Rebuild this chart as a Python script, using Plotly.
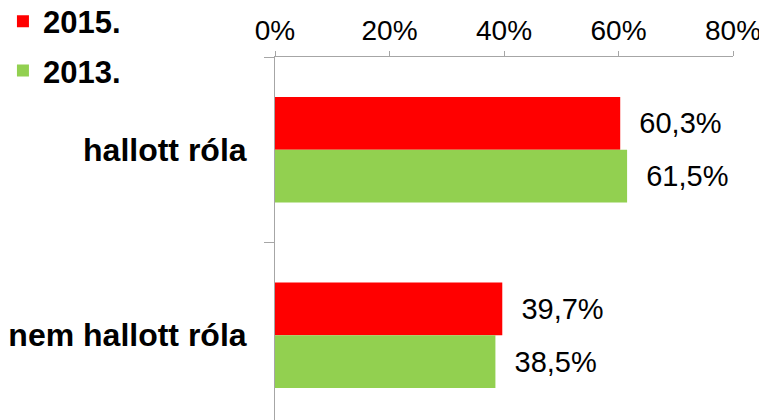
import plotly.graph_objects as go

categories = ["hallott róla", "nem hallott róla"]
years = ["2015.", "2013."]
values_2015 = [60.3, 39.7]
values_2013 = [61.5, 38.5]
colors = ["#FF0000", "#92D050"]

x_ticks = [0, 20, 40, 60, 80]
x_ticktext = ["0%", "20%", "40%", "60%", "80%"]

fig = go.Figure()
for name, vals, col in zip(years, [values_2015, values_2013], colors):
    fig.add_trace(go.Bar(
        y=categories, x=vals, name=name, orientation="h",
        marker=dict(color=col, line=dict(width=0)),
        texttemplate="\u00a0\u00a0%{x:.1f}%", textposition="outside",
        textfont=dict(size=29, color="#000000", family="Liberation Sans, Arial"),
        cliponaxis=False, legendgroup=name,
    ))

# page body adds an 8px offset, so margins are shifted accordingly
fig.update_layout(
    width=767, height=420,
    margin=dict(l=267, r=42, t=49, b=0, autoexpand=False),
    paper_bgcolor="white", plot_bgcolor="white",
    font=dict(family="Liberation Sans, Arial", size=28, color="#000000"),
    barmode="group", bargap=0.43, bargroupgap=0,
    separators=", ",
    showlegend=True,
    legend=dict(
        x=-0.594, y=1.168, xref="paper", yref="paper", xanchor="left", yanchor="top",
        font=dict(size=31, family="Liberation Sans, Arial", color="#000000", weight="bold"),
        traceorder="grouped", tracegroupgap=6, bgcolor="rgba(0,0,0,0)",
        itemwidth=30,
    ),
    xaxis=dict(
        side="top", range=[0, 80], tickmode="array", tickvals=x_ticks, ticktext=x_ticktext,
        showgrid=False, zeroline=False, showline=True, linecolor="#A6A6A6", linewidth=1,
        ticks="outside", ticklen=5, tickcolor="#A6A6A6",
        tickfont=dict(size=28), automargin=False,
    ),
    yaxis=dict(
        autorange="reversed", showgrid=False, zeroline=False,
        showline=True, linecolor="#A6A6A6", linewidth=1,
        ticks="outside", ticklen=10, tickcolor="#A6A6A6", tickson="boundaries",
        tickfont=dict(size=32, weight="bold"),
        ticklabelstandoff=21, automargin=False,
    ),
)

fig.write_html("out.html")
